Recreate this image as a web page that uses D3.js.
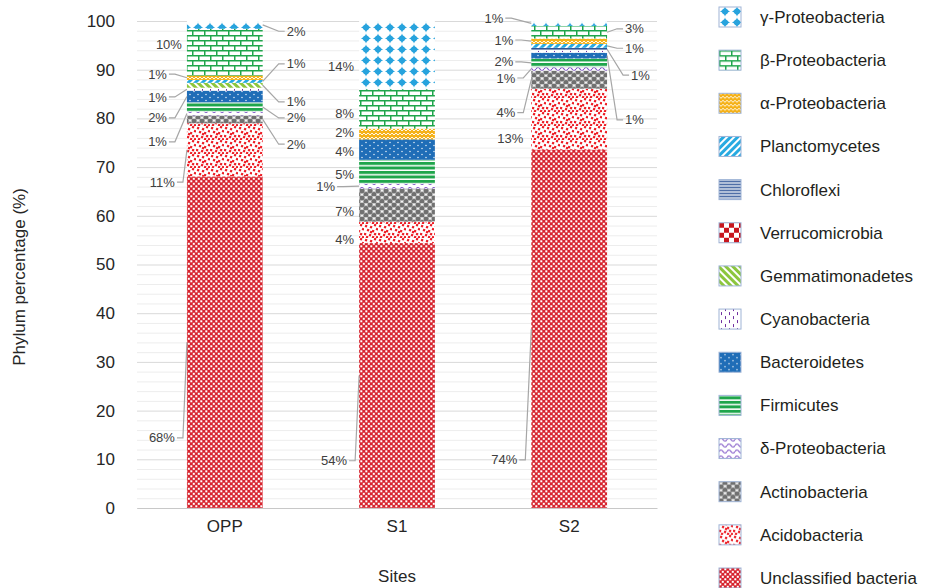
<!DOCTYPE html>
<html>
<head>
<meta charset="utf-8">
<script src="https://cdn.jsdelivr.net/npm/d3@7"></script>
<style>
  body { margin: 0; background: #fff; }
  text { font-family: "Liberation Sans", Arial, sans-serif; }
</style>
</head>
<body>
<div id="chart"></div>
<script>
// Data, stacked bottom -> top
var sites = ["OPP", "S1", "S2"];
var phyla = ["Unclassified bacteria", "Acidobacteria", "Actinobacteria", "δ-Proteobacteria",
  "Firmicutes", "Bacteroidetes", "Cyanobacteria", "Gemmatimonadetes", "Verrucomicrobia",
  "Chloroflexi", "Planctomycetes", "α-Proteobacteria", "β-Proteobacteria", "γ-Proteobacteria"];
var oppValues = [68.1, 10.9, 1.6, 0.8, 1.9, 2.4, 0.6, 1.0, 0, 0, 0.6, 0.9, 9.6, 1.6];
var s1Values  = [54.4, 4.4, 6.8, 1.0, 4.9, 4.2, 0, 0, 0, 0, 0, 2.2, 8.1, 14.0];
var s2Values  = [73.6, 12.5, 3.7, 0.7, 1.8, 1.2, 0.4, 0, 0, 0.6, 0.8, 1.1, 2.6, 1.0];
var yTicks = [0, 10, 20, 30, 40, 50, 60, 70, 80, 90, 100];

// where each data label sits: [side, y in % units, gap from bar]
var labelSpots = {
  OPP: {
    "γ-Proteobacteria": ["R", 97.9, 24], "β-Proteobacteria": ["L", 95.1, 5],
    "Planctomycetes": ["R", 91.2, 24], "α-Proteobacteria": ["L", 89.1, 20],
    "Cyanobacteria": ["L", 84.4, 20], "Gemmatimonadetes": ["R", 83.4, 24],
    "Bacteroidetes": ["L", 80.1, 20], "Firmicutes": ["R", 80.1, 24],
    "δ-Proteobacteria": ["L", 75.2, 20], "Actinobacteria": ["R", 74.7, 24],
    "Acidobacteria": ["L", 66.9, 12], "Unclassified bacteria": ["L", 14.4, 12]
  },
  S1: {
    "γ-Proteobacteria": ["L", 90.6, 5], "β-Proteobacteria": ["L", 81.0, 5],
    "α-Proteobacteria": ["L", 77.1, 5], "Bacteroidetes": ["L", 73.2, 5],
    "Firmicutes": ["L", 68.5, 5], "δ-Proteobacteria": ["L", 66.0, 24],
    "Actinobacteria": ["L", 60.8, 5], "Acidobacteria": ["L", 55.2, 5],
    "Unclassified bacteria": ["L", 9.7, 12]
  },
  S2: {
    "γ-Proteobacteria": ["L", 100.6, 28], "β-Proteobacteria": ["R", 98.4, 18],
    "α-Proteobacteria": ["L", 96.1, 18], "Planctomycetes": ["R", 94.4, 18],
    "Firmicutes": ["L", 91.6, 18], "δ-Proteobacteria": ["L", 88.3, 16],
    "Chloroflexi": ["R", 88.9, 24], "Actinobacteria": ["L", 81.2, 16],
    "Bacteroidetes": ["R", 79.7, 18], "Acidobacteria": ["L", 75.9, 8],
    "Unclassified bacteria": ["L", 9.9, 14]
  }
};

var width = 935, height = 588;
var plot = { left: 137, right: 657, top: 21, bottom: 508 };

var svg = d3.select("#chart").append("svg")
  .attr("width", width)
  .attr("height", height);

var defs = svg.append("defs");

function pat(id, w, h, bg, rot) {
  var p = defs.append("pattern")
    .attr("id", id)
    .attr("patternUnits", "userSpaceOnUse")
    .attr("width", w)
    .attr("height", h);
  if (rot) p.attr("patternTransform", "rotate(" + rot + ")");
  p.append("rect").attr("width", w).attr("height", h).attr("fill", bg);
  return p;
}

// one pattern per phylum, same index as phyla
var p;
// unclassified: small red checker
p = pat("p0", 5, 5, "#d7242e");
p.append("rect").attr("x", 0.3).attr("y", 0.3).attr("width", 2).attr("height", 2).attr("fill", "#fff");
p.append("rect").attr("x", 2.8).attr("y", 2.8).attr("width", 2).attr("height", 2).attr("fill", "#fff");
// acidobacteria: red confetti
p = pat("p1", 14, 14, "#fff");
[[1, 1], [6, 2], [10, 0], [3, 5], [8, 6], [12, 4], [0, 9], [5, 10], [10, 9], [2, 12], [8, 12], [12, 12], [6, 7]]
  .forEach(function(c) {
    p.append("rect").attr("x", c[0]).attr("y", c[1]).attr("width", 2.2).attr("height", 2.2)
      .attr("fill", "#ed1c24").attr("transform", "rotate(15," + (c[0] + 1) + "," + (c[1] + 1) + ")");
  });
// actinobacteria: grey spheres
p = pat("p2", 8, 7, "#b8b8b8");
p.append("circle").attr("cx", 2).attr("cy", 2).attr("r", 2.4).attr("fill", "#707070");
p.append("circle").attr("cx", 6).attr("cy", 5.5).attr("r", 2.4).attr("fill", "#707070");
p.append("circle").attr("cx", 6).attr("cy", 1.5).attr("r", 0.9).attr("fill", "#fff");
p.append("circle").attr("cx", 2).attr("cy", 5.5).attr("r", 0.9).attr("fill", "#fff");
// delta: purple waves
p = pat("p3", 8, 6, "#fff");
p.append("path").attr("d", "M0,3 Q2,0 4,3 Q6,6 8,3").attr("fill", "none")
  .attr("stroke", "#7b4fc4").attr("stroke-width", 1.2);
// firmicutes: green horizontal bands
p = pat("p4", 6, 4.5, "#fff");
p.append("rect").attr("width", 6).attr("height", 3).attr("fill", "#1fa54b");
// bacteroidetes: blue with white dots
p = pat("p5", 8, 6, "#1f6db7");
p.append("circle").attr("cx", 2).attr("cy", 1.5).attr("r", 0.7).attr("fill", "#fff");
p.append("circle").attr("cx", 6).attr("cy", 4.5).attr("r", 0.7).attr("fill", "#fff");
// cyanobacteria: purple short dashes
p = pat("p6", 8, 8, "#fff");
p.append("rect").attr("x", 2).attr("y", 1).attr("width", 1).attr("height", 3).attr("fill", "#7030a0");
p.append("rect").attr("x", 6).attr("y", 5).attr("width", 1).attr("height", 3).attr("fill", "#7030a0");
// gemmatimonadetes: light green diagonal
p = pat("p7", 5, 5, "#fff", -45);
p.append("rect").attr("width", 3).attr("height", 5).attr("fill", "#8cc63e");
// verrucomicrobia: big red checker
p = pat("p8", 10, 10, "#fff");
p.append("rect").attr("width", 5).attr("height", 5).attr("fill", "#c8161e");
p.append("rect").attr("x", 5).attr("y", 5).attr("width", 5).attr("height", 5).attr("fill", "#c8161e");
// chloroflexi: dark blue lines
p = pat("p9", 4, 3, "#fff");
p.append("rect").attr("width", 4).attr("height", 1.6).attr("fill", "#2f5597");
// planctomycetes: light blue stripes
p = pat("p10", 5, 5, "#fff", 45);
p.append("rect").attr("width", 3).attr("height", 5).attr("fill", "#27aae1");
// alpha: orange weave
p = pat("p11", 8, 4, "#f5b21a");
p.append("path").attr("d", "M0,1 L2,3 L4,1 L6,3 L8,1").attr("fill", "none")
  .attr("stroke", "#fff").attr("stroke-width", 0.9);
// beta: green bricks
p = pat("p12", 12, 10, "#fff");
p.append("path")
  .attr("d", "M0,0.75H12M0,5.75H12M0.75,0.75V5.75M6.75,5.75V10")
  .attr("fill", "none").attr("stroke", "#1fa54b").attr("stroke-width", 1.5);
// gamma: blue stars
p = pat("p13", 12, 11, "#fff");
p.append("path").attr("d", "M6,0.6 Q7,4.2 11,5.5 Q7,6.8 6,10.4 Q5,6.8 1,5.5 Q5,4.2 6,0.6Z").attr("fill", "#27a3dd");
p.append("circle").attr("cx", 6).attr("cy", 5.5).attr("r", 3).attr("fill", "#27a3dd");

var siteValues = { OPP: oppValues, S1: s1Values, S2: s2Values };

var table = sites.map(function(s) {
  var row = { site: s };
  phyla.forEach(function(ph, i) { row[ph] = siteValues[s][i]; });
  return row;
});

var stack = d3.stack().keys(phyla);
var series = stack(table);

var x = d3.scaleBand()
  .domain(sites)
  .range([plot.left, plot.right])
  .paddingInner(0.56)
  .paddingOuter(0.29);

var y = d3.scaleLinear()
  .domain([0, 100])
  .range([plot.bottom, plot.top]);

// minor gridlines every 2
svg.append("g")
  .selectAll("line")
  .data(d3.range(2, 100, 2).filter(function(v) { return v % 10 !== 0; }))
  .enter().append("line")
  .attr("x1", plot.left).attr("x2", plot.right)
  .attr("y1", function(d) { return y(d) + 0.5; })
  .attr("y2", function(d) { return y(d) + 0.5; })
  .attr("stroke", "#ededed");

// y axis with major gridlines
var yAxis = d3.axisLeft(y)
  .tickValues(yTicks)
  .tickSize(-(plot.right - plot.left))
  .tickPadding(22);

var gy = svg.append("g")
  .attr("transform", "translate(" + plot.left + ",0)")
  .call(yAxis);
gy.select(".domain").remove();
gy.selectAll(".tick line").attr("stroke", "#d9d9d9");
gy.selectAll(".tick text")
  .attr("fill", "#262626")
  .style("font-size", "17px");

// x axis
var xAxis = d3.axisBottom(x).tickSize(0).tickPadding(12);
var gx = svg.append("g")
  .attr("transform", "translate(0," + plot.bottom + ")")
  .call(xAxis);
gx.select(".domain").attr("stroke", "#c8c8c8");
gx.selectAll(".tick text")
  .attr("fill", "#262626")
  .style("font-size", "17px");

// stacked bars
svg.append("g")
  .selectAll("g")
  .data(series)
  .enter().append("g")
  .attr("fill", function(d) { return "url(#p" + d.index + ")"; })
  .selectAll("rect")
  .data(function(d) { return d; })
  .enter().append("rect")
  .attr("x", function(d) { return x(d.data.site); })
  .attr("width", x.bandwidth())
  .attr("y", function(d) { return y(d[1]); })
  .attr("height", function(d) { return y(d[0]) - y(d[1]); });

// data labels with leader lines
var labels = svg.append("g");
series.forEach(function(s) {
  s.forEach(function(d) {
    var site = d.data.site;
    var v = d[1] - d[0];
    var spot = labelSpots[site][s.key];
    if (!spot || Math.round(v) === 0) return;
    var side = spot[0], ly = y(spot[1]), gap = spot[2];
    var edge = side === "L" ? x(site) : x(site) + x.bandwidth();
    var sign = side === "L" ? -1 : 1;
    var tx = edge + sign * gap;
    if (gap > 10) {
      var mid = y((d[0] + d[1]) / 2);
      labels.append("path")
        .attr("d", "M" + (tx - sign * 2) + "," + ly + "h" + (sign * -6) + "L" + edge + "," + mid)
        .attr("fill", "none")
        .attr("stroke", "#a6a6a6")
        .attr("stroke-width", 1.2);
    }
    labels.append("text")
      .attr("x", tx)
      .attr("y", ly)
      .attr("dy", "0.35em")
      .attr("text-anchor", side === "L" ? "end" : "start")
      .attr("fill", "#404040")
      .style("font-size", "13px")
      .text(Math.round(v) + "%");
  });
});

// axis titles
svg.append("text")
  .attr("x", (plot.left + plot.right) / 2)
  .attr("y", 582)
  .attr("text-anchor", "middle")
  .attr("fill", "#262626")
  .style("font-size", "17px")
  .text("Sites");

svg.append("text")
  .attr("transform", "translate(25,277) rotate(-90)")
  .attr("text-anchor", "middle")
  .attr("fill", "#262626")
  .style("font-size", "17px")
  .text("Phylum percentage (%)");

// legend, top to bottom is reverse of stack order
var legendOrder = phyla.slice().reverse();
var ly = d3.scalePoint().domain(legendOrder).range([17, 578]);

var legend = svg.selectAll(".legend")
  .data(legendOrder)
  .enter().append("g")
  .attr("class", "legend")
  .attr("transform", function(d) { return "translate(719," + ly(d) + ")"; });

legend.append("rect")
  .attr("y", -10)
  .attr("width", 22)
  .attr("height", 20)
  .attr("fill", function(d) { return "url(#p" + phyla.indexOf(d) + ")"; })
  .attr("stroke", "#9fb4d6")
  .attr("stroke-width", 1);

legend.append("text")
  .attr("x", 41)
  .attr("dy", "0.35em")
  .attr("fill", "#231f20")
  .style("font-size", "17px")
  .text(function(d) { return d; });
</script>
</body>
</html>
